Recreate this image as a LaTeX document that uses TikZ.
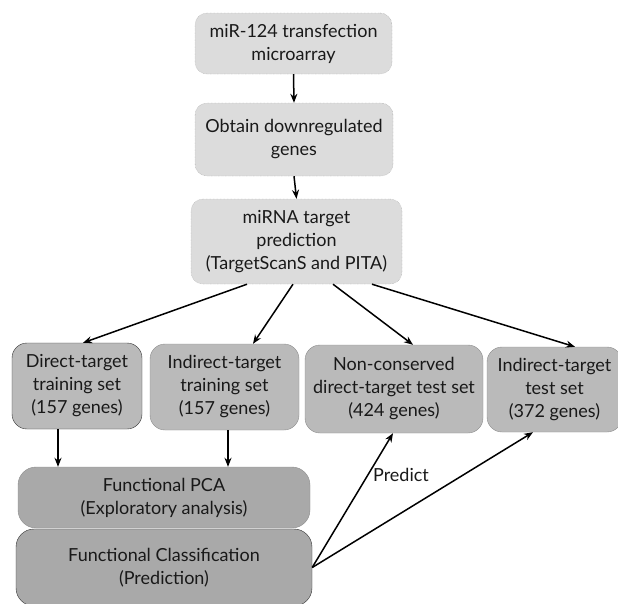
\documentclass[tikz,border=0pt]{standalone}
\usepackage{fontspec}
\setmainfont{Lato}
\usetikzlibrary{positioning, arrows.meta}

\definecolor{fondclair}{HTML}{DCDCDC}
\definecolor{fondmoyen}{HTML}{BABABA}
\definecolor{fondfonce}{HTML}{A9A9A9}
\definecolor{bordgris}{HTML}{8C8C8C}

\begin{document}
\begin{tikzpicture}[x=1pt,y=-1pt,
  boite/.style={rounded corners=12pt, align=center, inner sep=0pt,
    font=\fontsize{18}{23}\selectfont, text=black!90},
  etape/.style={boite, fill=fondclair, draw=bordgris, densely dotted, thin},
  ensemble/.style={boite, fill=fondmoyen, draw=bordgris, rounded corners=15pt},
  methode/.style={boite, fill=fondfonce, draw=bordgris, rounded corners=18pt},
  fleche/.style={-{Stealth[length=9pt,width=7pt]}, line width=1.5pt}]
\useasboundingbox (0,0) rectangle (618,603);

%les etapes du haut
\node[etape, minimum width=197, minimum height=61] (micro) at (293.5,43.5)
  {miR-124 transfection\\microarray};
\node[etape, minimum width=198, minimum height=73] (obtain) at (294,139.5)
  {Obtain downregulated\\genes};
\node[etape, minimum width=211, minimum height=85] (predic) at (296.5,241.5)
  {miRNA target\\prediction\\(TargetScanS and PITA)};

%les ensembles de genes
\node[ensemble, draw=black!80, minimum width=130, minimum height=86] (dtrain) at (77,386)
  {Direct-target\\training set\\(157 genes)};
\node[ensemble, minimum width=149, minimum height=86] (itrain) at (224.5,387)
  {Indirect-target\\training set\\(157 genes)};
\node[ensemble, minimum width=178, minimum height=88] (dtest) at (394,389)
  {Non-conserved\\direct-target test set\\(424 genes)};
\node[ensemble, minimum width=135, minimum height=85] (itest) at (554.5,389.5)
  {Indirect-target\\test set\\(372 genes)};

%les methodes
\node[methode, minimum width=292, minimum height=61] (fpca) at (164,497.5)
  {Functional PCA\\(Exploratory analysis)};
\node[methode, draw=black!80, minimum width=296, minimum height=77] (fclass) at (164,567.5)
  {Functional Classification\\(Prediction)};

%les fleches
\draw[fleche] (micro.south) -- (obtain.north);
\draw[fleche] (obtain.south) -- (predic.north);
\draw[fleche] ([xshift=-49.5]predic.south) -- ([xshift=6]dtrain.north);
\draw[fleche] ([xshift=-3.5]predic.south) -- ([xshift=28.5]itrain.north);
\draw[fleche] ([xshift=36.5]predic.south) -- ([xshift=19]dtest.north);
\draw[fleche] ([xshift=75.5]predic.south) -- ([xshift=20.5]itest.north);
\draw[fleche] ([xshift=-19]dtrain.south) -- ([xshift=-19]dtrain.south |- fpca.north);
\draw[fleche] ([xshift=3.5]itrain.south) -- ([xshift=3.5]itrain.south |- fpca.north);
\draw[fleche] (fclass.east) -- ([xshift=-1]dtest.south);
\draw[fleche] (fclass.east) -- ([xshift=-21.5]itest.south);

\node[font=\fontsize{18}{23}\selectfont, text=black!90] (predict) at (401,475) {Predict};

\end{tikzpicture}
\end{document}
